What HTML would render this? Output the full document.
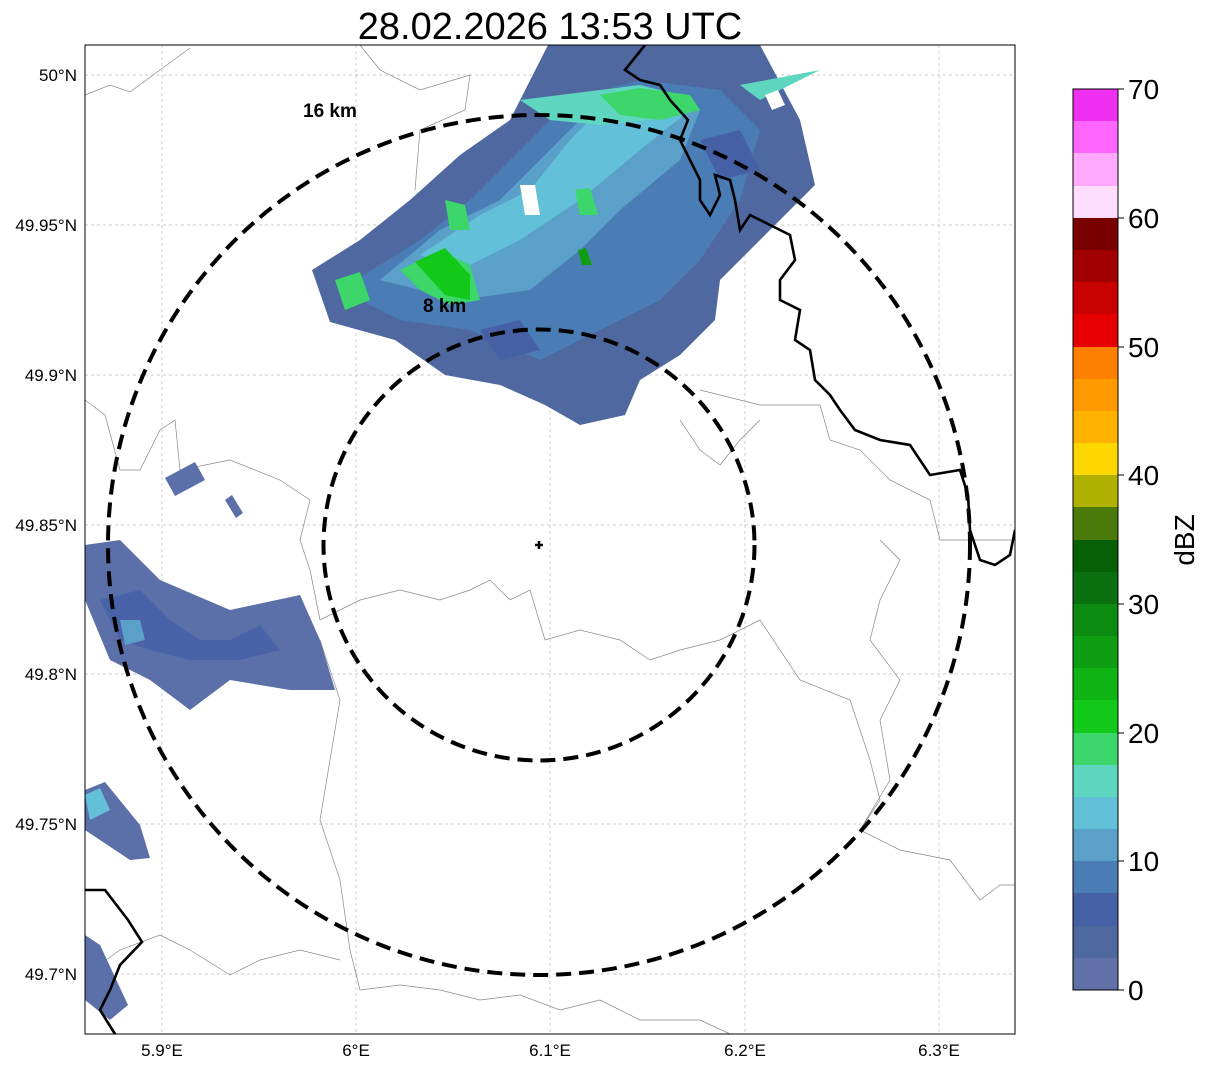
<!DOCTYPE html>
<html><head><meta charset="utf-8"><style>
body{margin:0;background:#fff;width:1207px;height:1069px;overflow:hidden}
svg{display:block;font-family:"Liberation Sans","DejaVu Sans",sans-serif}
</style></head><body>
<svg width="1207" height="1069" viewBox="0 0 1207 1069" xmlns="http://www.w3.org/2000/svg">
<text x="550" y="39" font-size="38" text-anchor="middle">28.02.2026 13:53 UTC</text>
<defs><clipPath id="c"><rect x="85" y="45" width="930" height="989"/></clipPath></defs>
<g clip-path="url(#c)">
<g stroke="#bbb" stroke-width="0.7" stroke-dasharray="3,3">
<line x1="85" y1="75" x2="1015" y2="75"/><line x1="85" y1="225" x2="1015" y2="225"/><line x1="85" y1="375" x2="1015" y2="375"/><line x1="85" y1="525" x2="1015" y2="525"/><line x1="85" y1="674" x2="1015" y2="674"/><line x1="85" y1="824" x2="1015" y2="824"/><line x1="85" y1="974" x2="1015" y2="974"/>
<line x1="162" y1="45" x2="162" y2="1034"/><line x1="356" y1="45" x2="356" y2="1034"/><line x1="550" y1="45" x2="550" y2="1034"/><line x1="745" y1="45" x2="745" y2="1034"/><line x1="939" y1="45" x2="939" y2="1034"/>
</g>
<g fill="none" stroke="#888" stroke-width="0.7">
<path d="M85,95 L110,85 L130,92 L160,70 L190,48 M360,45 L380,70 L420,90 L470,75 L465,110 L420,130 L415,190"/>
<path d="M85,400 L105,415 L120,470 L140,470 L160,430 L175,420 L180,470 L230,460 L280,480 L310,500 L300,540 L310,570 L320,620 L360,600 L400,590 L440,600 L470,590 L490,580 L510,600 L530,590 L545,640 L580,630 L620,640 L650,660 L680,650 L720,640 L760,620"/>
<path d="M320,640 L340,700 L330,760 L320,820 L340,880 L350,950 L360,990 L400,985 L440,990 L480,1000 L520,995 L560,1010 L600,1000 L640,1020 L700,1020 L730,1034"/>
<path d="M85,975 L120,950 L160,935 L190,950 L230,975 L260,960 L300,950 L340,960"/>
<path d="M760,620 L800,680 L850,700 L870,760 L880,800 L860,830 L900,850 L950,860 L980,900 L1000,885 L1015,885"/>
<path d="M700,390 L760,405 L820,405 L830,440 L860,450 L890,480 L930,500 L940,540 L1015,540"/>
<path d="M680,420 L700,450 L720,465 L740,440 L760,420"/>
<path d="M880,540 L900,560 L880,600 L870,640 L900,680 L880,720 L890,780 L860,830"/>
</g>
<g>
<polygon fill="#5068a0" points="312,270 360,240 410,200 460,155 510,120 548,45 650,45 760,45 800,120 815,185 770,230 720,280 715,320 680,355 640,380 625,415 580,425 545,405 500,385 445,375 395,340 330,322"/>
<polygon fill="#4a7db5" points="340,290 420,240 470,200 520,150 570,100 640,80 720,90 760,130 740,200 700,260 660,300 600,330 540,360 470,330 400,320"/>
<polygon fill="#5aa0c8" points="380,280 440,230 500,200 540,160 590,110 650,95 700,110 680,160 620,210 580,250 530,290 460,300"/>
<polygon fill="#62c0d8" points="420,255 480,215 530,190 570,140 610,100 660,95 690,110 640,150 580,200 520,240 460,270"/>
<polygon fill="#5ed6c0" points="520,100 560,95 600,90 640,85 680,95 650,120 600,125 550,120"/>
<polygon fill="#3dd66a" points="600,95 640,88 690,95 700,110 660,120 620,115"/>
<polygon fill="#3dd66a" points="400,270 440,250 470,265 480,300 450,305 420,290"/>
<polygon fill="#12c818" points="415,262 445,248 470,275 470,300 445,295"/>
<polygon fill="#3dd66a" points="335,280 360,272 370,300 345,310"/>
<polygon fill="#3dd66a" points="445,200 465,205 470,230 450,230"/>
<polygon fill="#3dd66a" points="575,190 590,188 598,215 580,215"/>
<polygon fill="#0e9e12" points="578,250 586,248 592,265 582,265"/>
<polygon fill="#5ed6c0" points="820,70 760,100 740,85"/>
<polygon fill="#4560a5" points="480,330 520,320 540,350 500,360"/>
<polygon fill="#4560a5" points="700,140 740,130 760,170 720,180"/>
<polygon fill="#fff" points="520,185 535,185 540,215 525,215"/>
<polygon fill="#fff" points="765,95 778,90 785,105 772,110"/>
</g>
<polygon fill="#5b6fa8" points="85,545 120,540 160,580 230,610 300,595 320,640 335,690 290,690 230,680 190,710 150,680 110,660 85,600"/>
<polygon fill="#4a62a8" points="100,600 140,590 170,620 200,640 230,640 260,625 280,650 240,660 190,660 150,650 120,640"/>
<polygon fill="#5aa0c8" points="120,620 140,620 145,640 125,645"/>
<polygon fill="#5b6fa8" points="165,478 195,462 205,480 175,496"/>
<polygon fill="#5b6fa8" points="225,500 232,495 243,513 236,518"/>
<polygon fill="#5b6fa8" points="85,790 105,782 140,825 150,858 130,860 100,840 85,830"/>
<polygon fill="#62c0d8" points="85,795 100,788 110,810 90,820"/>
<polygon fill="#5b6fa8" points="85,935 100,945 128,1005 110,1020 85,1000"/>
<g fill="none" stroke="#000" stroke-width="2.6">
<path d="M645,45 L625,70 L640,80 L660,85 L670,100 L688,120 L680,140 L690,160 L700,180 L700,200 L710,215 L720,195 L715,175 L730,180 L735,200 L740,230 L750,215 L770,225 L790,235 L795,260 L780,280 L780,300 L800,310 L795,340 L810,350 L815,380 L830,395 L840,410 L855,430 L880,440 L910,445 L920,460 L930,475 L960,470 L968,495 L970,530 L975,545 L980,560 L995,565 L1010,555 L1015,530"/>
<path d="M85,890 L105,890 L128,920 L142,942 L120,965 L110,990 L100,1010 L115,1034"/>
</g>
</g>
<g fill="none" stroke="#000" stroke-width="4" stroke-dasharray="15,8">
<circle cx="539" cy="545" r="215.5"/>
<ellipse cx="539" cy="545" rx="431" ry="430"/>
</g>
<path d="M535,545 L543,545 M539,541 L539,549" stroke="#000" stroke-width="2.5"/>
<text x="303" y="117" font-size="19" font-weight="bold">16 km</text>
<text x="423" y="312" font-size="19" font-weight="bold">8 km</text>
<rect x="85" y="45" width="930" height="989" fill="none" stroke="#000" stroke-width="1"/>
<g font-size="17" text-anchor="end">
<text x="77" y="81">50°N</text><text x="77" y="231">49.95°N</text><text x="77" y="381">49.9°N</text><text x="77" y="531">49.85°N</text><text x="77" y="680">49.8°N</text><text x="77" y="830">49.75°N</text><text x="77" y="980">49.7°N</text>
</g>
<g font-size="17" text-anchor="middle">
<text x="162" y="1056">5.9°E</text><text x="356" y="1056">6°E</text><text x="550" y="1056">6.1°E</text><text x="745" y="1056">6.2°E</text><text x="939" y="1056">6.3°E</text>
</g>
<g>
<rect x="1073" y="89" width="45" height="33" fill="#f030f0"/>
<rect x="1073" y="121" width="45" height="33" fill="#ff66ff"/>
<rect x="1073" y="153" width="45" height="33" fill="#ffaaff"/>
<rect x="1073" y="186" width="45" height="33" fill="#ffddff"/>
<rect x="1073" y="218" width="45" height="33" fill="#780000"/>
<rect x="1073" y="250" width="45" height="33" fill="#a00000"/>
<rect x="1073" y="282" width="45" height="33" fill="#c80000"/>
<rect x="1073" y="314" width="45" height="33" fill="#e60000"/>
<rect x="1073" y="347" width="45" height="33" fill="#ff7f00"/>
<rect x="1073" y="379" width="45" height="33" fill="#ff9900"/>
<rect x="1073" y="411" width="45" height="33" fill="#ffb300"/>
<rect x="1073" y="443" width="45" height="33" fill="#ffd700"/>
<rect x="1073" y="475" width="45" height="33" fill="#b0b000"/>
<rect x="1073" y="507" width="45" height="33" fill="#4a7a0a"/>
<rect x="1073" y="540" width="45" height="33" fill="#066006"/>
<rect x="1073" y="572" width="45" height="33" fill="#0a700f"/>
<rect x="1073" y="604" width="45" height="33" fill="#0d8a10"/>
<rect x="1073" y="636" width="45" height="33" fill="#0e9e12"/>
<rect x="1073" y="668" width="45" height="33" fill="#10b415"/>
<rect x="1073" y="700" width="45" height="33" fill="#12c818"/>
<rect x="1073" y="733" width="45" height="33" fill="#3dd66a"/>
<rect x="1073" y="765" width="45" height="33" fill="#5ed6c0"/>
<rect x="1073" y="797" width="45" height="33" fill="#62c0d8"/>
<rect x="1073" y="829" width="45" height="33" fill="#5aa0c8"/>
<rect x="1073" y="861" width="45" height="33" fill="#4a7db5"/>
<rect x="1073" y="893" width="45" height="33" fill="#4560a5"/>
<rect x="1073" y="926" width="45" height="33" fill="#5068a0"/>
<rect x="1073" y="958" width="45" height="32" fill="#6070a8"/>
<rect x="1073" y="89" width="45" height="901" fill="none" stroke="#000" stroke-width="1"/>
<g stroke="#000"><line x1="1118" y1="89" x2="1124" y2="89"/><line x1="1118" y1="218" x2="1124" y2="218"/><line x1="1118" y1="347" x2="1124" y2="347"/><line x1="1118" y1="475" x2="1124" y2="475"/><line x1="1118" y1="604" x2="1124" y2="604"/><line x1="1118" y1="733" x2="1124" y2="733"/><line x1="1118" y1="861" x2="1124" y2="861"/><line x1="1118" y1="990" x2="1124" y2="990"/></g>
<g font-size="28"><text x="1128" y="99">70</text><text x="1128" y="228">60</text><text x="1128" y="357">50</text><text x="1128" y="485">40</text><text x="1128" y="614">30</text><text x="1128" y="743">20</text><text x="1128" y="871">10</text><text x="1128" y="1000">0</text></g>
<text transform="translate(1194,540) rotate(-90)" font-size="28" text-anchor="middle">dBZ</text>
</g>
</svg>
</body></html>
